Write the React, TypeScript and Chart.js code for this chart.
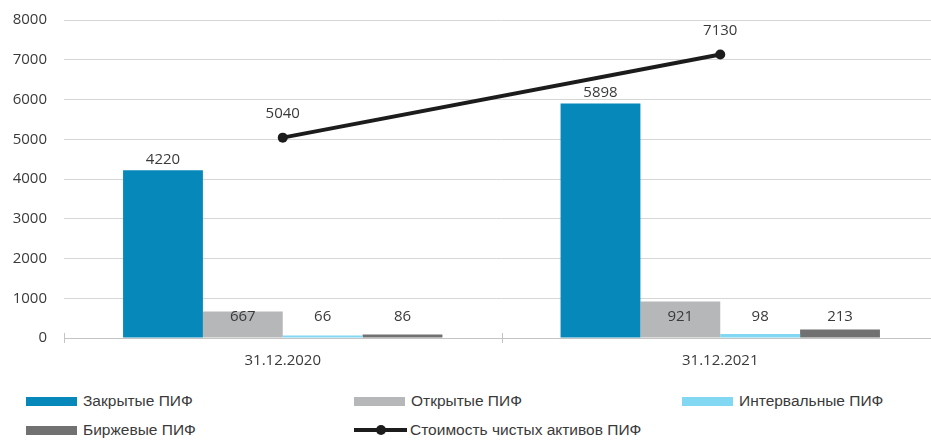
import React, { useEffect, useRef } from "react";
import { Chart, registerables } from "chart.js";

Chart.register(...registerables);

// Dates on the category axis
const categories = ["31.12.2020", "31.12.2021"];

// Number of funds by type (bars)
const closedFunds = [4220, 5898];
const openFunds = [667, 921];
const intervalFunds = [66, 98];
const exchangeFunds = [86, 213];

// Net asset value, line series
const netAssets = [5040, 7130];

// Value axis
const yMin = 0;
const yMax = 8000;
const yStep = 1000;

const seriesNames = [
  "Закрытые ПИФ",
  "Открытые ПИФ",
  "Интервальные ПИФ",
  "Биржевые ПИФ",
  "Стоимость чистых активов ПИФ",
];

const COLORS = {
  closed: "#0688ba",
  open: "#b6b7b8",
  interval: "#82d8f2",
  exchange: "#717171",
  line: "#1c1c1c",
  text: "#3a3a3a",
  grid: "#d6d6d6",
  axis: "#c4c4c4",
};

const TICK_FONT = "'Open Sans', 'DejaVu Sans', sans-serif";
const LEGEND_FONT = "'Liberation Sans', Arial, sans-serif";

// Value labels above bars and line points
const valueLabels = {
  id: "valueLabels",
  afterDatasetsDraw(chart: any) {
    const { ctx } = chart;
    const yScale = chart.scales.y;
    const zeroY = yScale.getPixelForValue(0);
    ctx.save();
    ctx.fillStyle = COLORS.text;
    ctx.font = `15px ${TICK_FONT}`;
    ctx.textAlign = "center";
    ctx.textBaseline = "middle";
    chart.data.datasets.forEach((ds: any, di: number) => {
      const meta = chart.getDatasetMeta(di);
      if (meta.hidden) return;
      meta.data.forEach((el: any, i: number) => {
        const v = ds.data[i] as number;
        let y: number;
        if (ds.type === "line") {
          y = el.y - 24;
        } else if (v >= 1000) {
          y = el.y - 11;
        } else {
          y = zeroY - 21;
        }
        ctx.fillText(String(v), el.x, y);
      });
    });
    ctx.restore();
  },
};

// Short tick marks at category boundaries across the base line
const categoryTicks = {
  id: "categoryTicks",
  afterDraw(chart: any) {
    const { ctx, chartArea } = chart;
    const n = chart.data.labels.length;
    const w = (chartArea.right - chartArea.left) / n;
    ctx.save();
    ctx.strokeStyle = COLORS.axis;
    ctx.lineWidth = 1;
    for (let i = 0; i <= n; i++) {
      const x = Math.round(chartArea.left + i * w) + 0.5;
      ctx.beginPath();
      ctx.moveTo(x, chartArea.bottom - 5);
      ctx.lineTo(x, chartArea.bottom + 5);
      ctx.stroke();
    }
    ctx.restore();
  },
};

function ChartCanvas() {
  const ref = useRef<HTMLCanvasElement | null>(null);

  useEffect(() => {
    if (!ref.current) return;
    const chart = new Chart(ref.current, {
      data: {
        labels: categories,
        datasets: [
          {
            type: "line",
            label: seriesNames[4],
            data: netAssets,
            borderColor: COLORS.line,
            backgroundColor: COLORS.line,
            borderWidth: 4,
            pointRadius: 5,
            pointBackgroundColor: COLORS.line,
            pointBorderWidth: 0,
            order: 0,
          } as any,
          {
            type: "bar",
            label: seriesNames[0],
            data: closedFunds,
            backgroundColor: COLORS.closed,
            order: 1,
          },
          {
            type: "bar",
            label: seriesNames[1],
            data: openFunds,
            backgroundColor: COLORS.open,
            order: 1,
          },
          {
            type: "bar",
            label: seriesNames[2],
            data: intervalFunds,
            backgroundColor: COLORS.interval,
            order: 1,
          },
          {
            type: "bar",
            label: seriesNames[3],
            data: exchangeFunds,
            backgroundColor: COLORS.exchange,
            order: 1,
          },
        ],
      },
      options: {
        responsive: false,
        animation: false,
        devicePixelRatio: 1,
        layout: { padding: { top: 20, left: 0, right: 0, bottom: 0 } },
        datasets: {
          bar: { categoryPercentage: 0.73, barPercentage: 1 },
        },
        plugins: {
          legend: { display: false },
          tooltip: { enabled: false },
        },
        scales: {
          x: {
            offset: true,
            grid: { display: false },
            border: { display: true, color: COLORS.axis },
            ticks: {
              color: COLORS.text,
              font: { family: TICK_FONT, size: 15 },
              padding: 6,
            },
            afterFit: (s: any) => {
              s.height = 42;
            },
          },
          y: {
            min: yMin,
            max: yMax,
            grid: { color: COLORS.grid, drawTicks: false },
            border: { display: false },
            ticks: {
              stepSize: yStep,
              color: COLORS.text,
              font: { family: TICK_FONT, size: 15 },
              padding: 17,
              callback: (v: any) => String(v),
            },
            afterFit: (s: any) => {
              s.width = 64;
              s.paddingTop = 0;
              s.paddingBottom = 0;
            },
          },
        },
      },
      plugins: [valueLabels, categoryTicks],
    });
    return () => chart.destroy();
  }, []);

  return (
    <canvas
      ref={ref}
      width={944}
      height={380}
      style={{ display: "block", width: 944, height: 380 }}
    />
  );
}

type LegendItem = { label: string; color: string; kind: "box" | "line"; left: number; top: number };

const legendItems: LegendItem[] = [
  { label: seriesNames[0], color: COLORS.closed, kind: "box", left: 26, top: 401 },
  { label: seriesNames[1], color: COLORS.open, kind: "box", left: 354, top: 401 },
  { label: seriesNames[2], color: COLORS.interval, kind: "box", left: 682, top: 401 },
  { label: seriesNames[3], color: COLORS.exchange, kind: "box", left: 26, top: 430 },
  { label: seriesNames[4], color: COLORS.line, kind: "line", left: 354, top: 430 },
];

function Legend() {
  return (
    <>
      {legendItems.map((it) => (
        <div
          key={it.label}
          style={{
            position: "absolute",
            left: it.left,
            top: it.top - 10,
            height: 20,
            display: "flex",
            alignItems: "center",
            fontFamily: LEGEND_FONT,
            fontSize: 15.5,
            color: COLORS.text,
            whiteSpace: "nowrap",
          }}
        >
          {it.kind === "box" ? (
            <span style={{ display: "inline-block", width: 51, height: 9, background: it.color }} />
          ) : (
            <span style={{ position: "relative", display: "inline-block", width: 53, height: 10 }}>
              <span
                style={{
                  position: "absolute",
                  left: 0,
                  right: 0,
                  top: 3,
                  height: 4,
                  background: it.color,
                }}
              />
              <span
                style={{
                  position: "absolute",
                  left: 22,
                  top: 0,
                  width: 10,
                  height: 10,
                  borderRadius: 5,
                  background: it.color,
                }}
              />
            </span>
          )}
          <span style={{ marginLeft: it.kind === "box" ? 6 : 3 }}>{it.label}</span>
        </div>
      ))}
    </>
  );
}

export default function App() {
  return (
    <div
      style={{
        position: "absolute",
        left: 0,
        top: 0,
        width: 931,
        height: 440,
        overflow: "hidden",
        background: "#ffffff",
      }}
    >
      <ChartCanvas />
      <Legend />
    </div>
  );
}
